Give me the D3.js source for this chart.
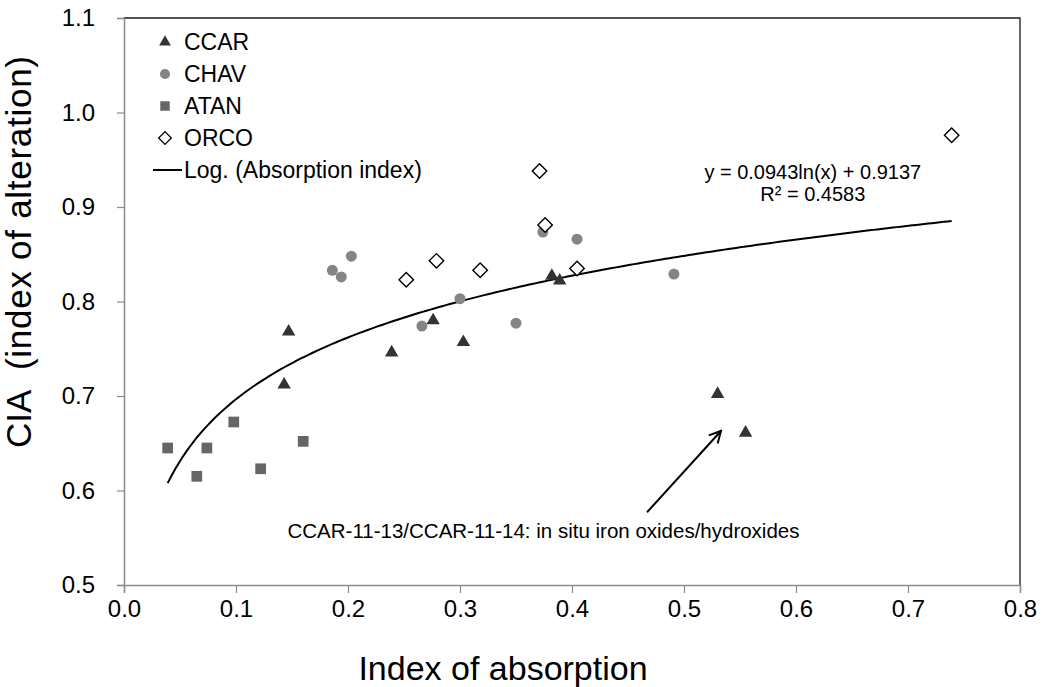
<!DOCTYPE html>
<html>
<head>
<meta charset="utf-8">
<script src="https://cdn.jsdelivr.net/npm/d3@7"></script>
<style>
  body { margin: 0; background: #fff; }
  text { font-family: "Liberation Sans", Arial, Helvetica, sans-serif; fill: #000; }
</style>
</head>
<body>
<svg id="chart" width="1042" height="687"></svg>
<script>
// Absorption index (x) vs. chemical index of alteration (y), by site
const ccarX = [0.143, 0.147, 0.239, 0.276, 0.303, 0.382, 0.389, 0.530, 0.555];
const ccarY = [0.712, 0.768, 0.746, 0.780, 0.757, 0.827, 0.822, 0.702, 0.661];

const chavX = [0.186, 0.194, 0.203, 0.266, 0.300, 0.350, 0.374, 0.4045, 0.491];
const chavY = [0.833, 0.826, 0.848, 0.774, 0.803, 0.777, 0.8735, 0.866, 0.829];

const atanX = [0.039, 0.065, 0.074, 0.098, 0.122, 0.160];
const atanY = [0.645, 0.615, 0.645, 0.6725, 0.623, 0.652];

const orcoX = [0.252, 0.279, 0.318, 0.371, 0.376, 0.4045, 0.739];
const orcoY = [0.823, 0.843, 0.833, 0.938, 0.881, 0.835, 0.976];

// Logarithmic fit: y = a ln(x) + b
const fitA = 0.0943;
const fitB = 0.9137;
const fitR2 = 0.4583;

const xTicks = [0.0, 0.1, 0.2, 0.3, 0.4, 0.5, 0.6, 0.7, 0.8];
const yTicks = [0.5, 0.6, 0.7, 0.8, 0.9, 1.0, 1.1];

const seriesNames = ["CCAR", "CHAV", "ATAN", "ORCO"];
const fitLegend = "Log. (Absorption index)";
const xTitle = "Index of absorption";
const yTitleMain = "CIA";
const yTitleSub = "(index of alteration)";
const noteText = "CCAR-11-13/CCAR-11-14: in situ iron oxides/hydroxides";

const svg = d3.select("#chart");
svg.append("rect").attr("width", 1042).attr("height", 687).attr("fill", "#fff");

const x = d3.scaleLinear().domain([0, 0.8]).range([124, 1020]);
const y = d3.scaleLinear().domain([0.5, 1.1]).range([585, 18]);

const axisGray = "#8c8c8c";

// Plot frame: top and right edges
svg.append("path")
  .attr("d", `M${x(0)},${y(1.1)} H${x(0.8)} V${y(0.5)}`)
  .attr("fill", "none").attr("stroke", "#1a1a1a").attr("stroke-width", 1.3);

// Axes
const xAxis = svg.append("g").attr("transform", `translate(0,${y(0.5)})`)
  .call(d3.axisBottom(x).tickValues(xTicks).tickFormat(d3.format(".1f")).tickSize(8).tickPadding(7));
const yAxis = svg.append("g").attr("transform", `translate(${x(0)},0)`)
  .call(d3.axisLeft(y).tickValues(yTicks).tickFormat(d3.format(".1f")).tickSize(7).tickPadding(22));

[xAxis, yAxis].forEach(g => {
  g.select(".domain").attr("stroke", axisGray).attr("stroke-width", 1.5);
  g.selectAll(".tick line").attr("stroke", axisGray).attr("stroke-width", 1.2);
  g.selectAll(".tick text").attr("font-size", 24).attr("fill", "#111")
    .style("font-family", "'Liberation Sans', Arial, sans-serif");
});

// Axis titles
svg.append("text")
  .attr("x", 503).attr("y", 680)
  .attr("text-anchor", "middle").attr("font-size", 34)
  .text(xTitle);
const yTitleG = svg.append("g").attr("transform", "translate(31,0) rotate(-90)");
yTitleG.append("text")
  .attr("x", -448).attr("y", 0)
  .attr("text-anchor", "start").attr("font-size", 35)
  .text(yTitleMain);
yTitleG.append("text")
  .attr("x", -56).attr("y", 0)
  .attr("text-anchor", "end").attr("font-size", 35)
  .attr("textLength", 314).attr("lengthAdjust", "spacing")
  .text(yTitleSub);

// Trend line over the range of the data
const allX = ccarX.concat(chavX, atanX, orcoX);
const [xMin, xMax] = d3.extent(allX);
const fitXs = d3.range(0, 201).map(i => xMin + (xMax - xMin) * i / 200);
svg.append("path")
  .datum(fitXs)
  .attr("fill", "none").attr("stroke", "#000").attr("stroke-width", 2)
  .attr("d", d3.line().x(d => x(d)).y(d => y(fitA * Math.log(d) + fitB)));

// Marker styles per series
const styles = {
  CCAR: { type: d3.symbolTriangle, size: 78, fill: "#333333", stroke: "none", rot: 0 },
  CHAV: { type: d3.symbolCircle, size: 95, fill: "#858585", stroke: "none", rot: 0 },
  ATAN: { type: d3.symbolSquare, size: 115, fill: "#666666", stroke: "none", rot: 0 },
  ORCO: { type: d3.symbolSquare, size: 105, fill: "#ffffff", stroke: "#000", rot: 45 }
};

const series = [
  { name: "CCAR", xs: ccarX, ys: ccarY },
  { name: "CHAV", xs: chavX, ys: chavY },
  { name: "ATAN", xs: atanX, ys: atanY },
  { name: "ORCO", xs: orcoX, ys: orcoY }
];

series.forEach(s => {
  const st = styles[s.name];
  svg.append("g").selectAll("path")
    .data(s.xs.map((v, i) => [v, s.ys[i]]))
    .join("path")
    .attr("transform", d => `translate(${x(d[0])},${y(d[1])}) rotate(${st.rot})`)
    .attr("d", d3.symbol().type(st.type).size(st.size))
    .attr("fill", st.fill)
    .attr("stroke", st.stroke)
    .attr("stroke-width", st.stroke === "none" ? 0 : 1.4);
});

// Fit equation
const eq = svg.append("text")
  .attr("x", x(0.615)).attr("text-anchor", "middle").attr("font-size", 20);
eq.append("tspan").attr("x", x(0.615)).attr("y", 179)
  .text(`y = ${fitA}ln(x) + ${fitB}`);
eq.append("tspan").attr("x", x(0.615)).attr("y", 201)
  .text(`R\u00b2 = ${fitR2}`);

// Legend
const legend = svg.append("g");
const legendSizes = { CCAR: 60, CHAV: 80, ATAN: 90, ORCO: 80 };
seriesNames.forEach((name, i) => {
  const st = styles[name];
  const cy = 42 + i * 32;
  legend.append("path")
    .attr("transform", `translate(165,${cy}) rotate(${st.rot})`)
    .attr("d", d3.symbol().type(st.type).size(legendSizes[name]))
    .attr("fill", st.fill).attr("stroke", st.stroke)
    .attr("stroke-width", st.stroke === "none" ? 0 : 1.3);
  legend.append("text")
    .attr("x", 184).attr("y", cy + 8).attr("font-size", 23)
    .text(name);
});
legend.append("line")
  .attr("x1", 153).attr("x2", 182).attr("y1", 170).attr("y2", 170)
  .attr("stroke", "#000").attr("stroke-width", 2);
legend.append("text")
  .attr("x", 184).attr("y", 178).attr("font-size", 23)
  .text(fitLegend);

// Note with arrow towards the two outlying CCAR samples
const defs = svg.append("defs");
defs.append("marker")
  .attr("id", "arrowhead")
  .attr("markerUnits", "userSpaceOnUse")
  .attr("viewBox", "0 0 14 14")
  .attr("refX", 12.5).attr("refY", 7)
  .attr("markerWidth", 14).attr("markerHeight", 14)
  .attr("orient", "auto")
  .append("path")
  .attr("d", "M1,1 L12.5,7 L1,13")
  .attr("fill", "none").attr("stroke", "#000").attr("stroke-width", 2);

svg.append("line")
  .attr("x1", x(0.467)).attr("y1", y(0.577))
  .attr("x2", x(0.533)).attr("y2", y(0.663))
  .attr("stroke", "#000").attr("stroke-width", 2)
  .attr("marker-end", "url(#arrowhead)");

svg.append("text")
  .attr("x", x(0.146)).attr("y", y(0.55))
  .attr("font-size", 20.5)
  .text(noteText);
</script>
</body>
</html>
